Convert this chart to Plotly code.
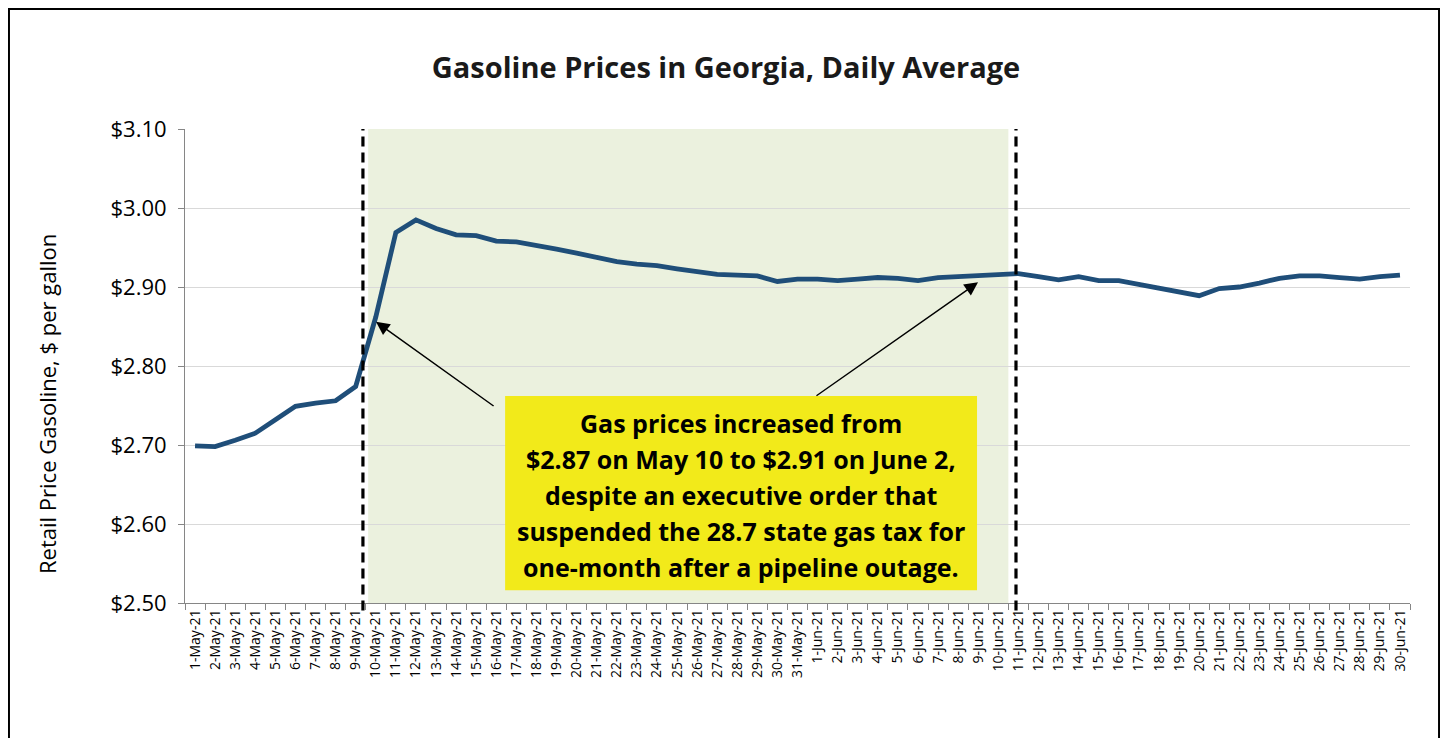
import plotly.graph_objects as go

dates = [f"{d}-May-21" for d in range(1, 32)] + [f"{d}-Jun-21" for d in range(1, 31)]

prices = [
    2.699, 2.698, 2.706, 2.715, 2.732, 2.749, 2.753, 2.756, 2.774, 2.862,
    2.969, 2.985, 2.974, 2.966, 2.965, 2.958, 2.957, 2.953, 2.948, 2.943,
    2.937, 2.932, 2.929, 2.927, 2.923, 2.919, 2.916, 2.915, 2.914, 2.907,
    2.910,
    2.910, 2.908, 2.910, 2.912, 2.911, 2.908, 2.912, 2.913, 2.915, 2.916,
    2.917, 2.913, 2.909, 2.913, 2.908, 2.908, 2.903, 2.898, 2.894, 2.889,
    2.898, 2.900, 2.905, 2.911, 2.914, 2.914, 2.912, 2.910, 2.913, 2.915,
]

y_ticks = [2.50, 2.60, 2.70, 2.80, 2.90, 3.00, 3.10]

box_lines = [
    "Gas prices increased from",
    "$2.87 on May 10 to $2.91 on June 2,",
    "despite an executive order that",
    "suspended the 28.7 state gas tax for",
    "one-month after a pipeline outage.",
]

FONT = "Open Sans"

fig = go.Figure()
fig.add_trace(go.Scatter(
    x=dates, y=prices, mode="lines",
    line=dict(color="#1F4E79", width=4.8),
    hoverinfo="x+y",
))

shapes = []
shapes.append(dict(type="rect", xref="x", yref="y", x0=8.62, x1=40.5, y0=2.50, y1=3.10,
                   fillcolor="#EBF1DE", line=dict(width=0), layer="below"))
for xv in (8.36, 40.88):
    shapes.append(dict(type="line", xref="x", yref="paper", x0=xv, x1=xv, y0=-0.016, y1=1.0,
                       line=dict(color="black", width=3.2, dash="10px,6px")))
shapes.append(dict(type="rect", xref="x", yref="y", x0=15.44, x1=38.94, y0=2.516, y1=2.762,
                   fillcolor="#F2EA1A", line=dict(width=0)))
shapes.append(dict(type="rect", xref="paper", yref="paper", x0=-0.1437, x1=1.0237, y0=-0.5, y1=1.2532,
                   line=dict(color="black", width=2), fillcolor="rgba(0,0,0,0)"))

annotations = []
y0_line = 2.7278
for i, t in enumerate(box_lines):
    annotations.append(dict(x=27.19, y=y0_line - i * 0.04557, xref="x", yref="y", text=f"<b>{t}</b>",
                            showarrow=False, font=dict(family=FONT, size=25, color="black"),
                            xanchor="center", yanchor="middle"))
annotations.append(dict(x=9.01, y=2.856, ax=14.94, ay=2.748, xref="x", yref="y", axref="x", ayref="y",
                        text="", showarrow=True, arrowhead=2, arrowsize=1.8, arrowwidth=1.5,
                        arrowcolor="black"))
annotations.append(dict(x=38.99, y=2.906, ax=30.87, ay=2.761, xref="x", yref="y", axref="x", ayref="y",
                        text="", showarrow=True, arrowhead=2, arrowsize=1.8, arrowwidth=1.5,
                        arrowcolor="black"))
annotations.append(dict(text="Retail Price Gasoline, $ per gallon", textangle=-90,
                        xref="paper", yref="paper", x=(47 - 185) / 1225, y=(603 - 404) / 474,
                        xanchor="center", yanchor="middle", showarrow=False,
                        font=dict(family=FONT, size=22, color="black")))

fig.update_layout(
    width=1432, height=730,
    margin=dict(l=177, r=30, t=121, b=135),
    paper_bgcolor="white", plot_bgcolor="white",
    showlegend=False,
    title=dict(text="<b>Gasoline Prices in Georgia, Daily Average</b>", x=(726 - 185) / 1225, xref="paper",
               xanchor="center", y=1 - 60 / 730, yref="container", yanchor="middle",
               font=dict(family=FONT, size=29, color="#1a1a1a")),
    shapes=shapes,
    annotations=annotations,
    xaxis=dict(type="category", range=[-0.5, 60.5], tickangle=-90, tickson="boundaries",
               ticks="outside", ticklen=6, tickcolor="#868686", showline=True, linecolor="#868686",
               linewidth=1, showgrid=False, tickfont=dict(family=FONT, size=14, color="black")),
    yaxis=dict(range=[2.50, 3.10], tickvals=y_ticks, tickformat="$.2f", ticks="outside",
               ticklen=6, tickcolor="#868686", showline=True, linecolor="#868686", linewidth=1,
               showgrid=True, gridcolor="#D9D9D9", gridwidth=1, zeroline=False,
               tickfont=dict(family=FONT, size=22, color="black"), ticklabelstandoff=7),
)

fig.write_html("out.html")
